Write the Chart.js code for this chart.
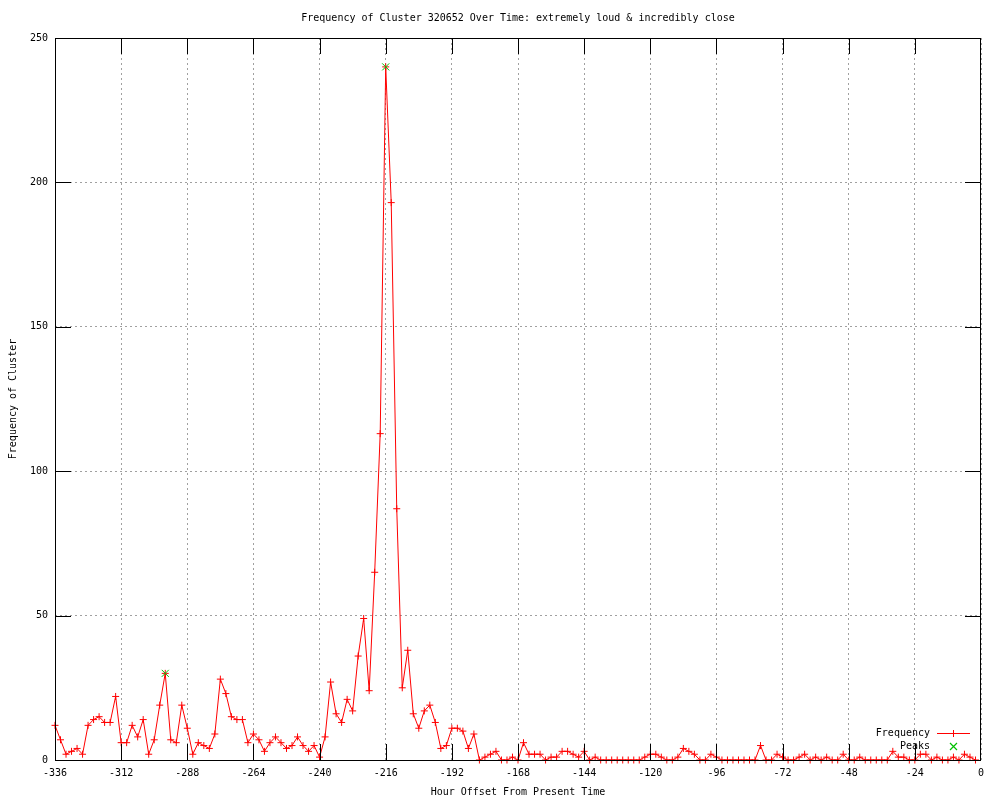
<!DOCTYPE html>
<html>
<head>
<meta charset="utf-8">
<script src="https://cdn.jsdelivr.net/npm/chart.js"></script>
<style>
  body { margin:0; background:#fff; }
  canvas { display:block; }
</style>
</head>
<body>
<canvas id="freqChart" width="1000" height="800"></canvas>
<script>
// hour offsets (every 2h) and cluster frequency
const hours = [
  -336,-334,-332,-330,-328,-326,-324,-322,-320,-318,-316,-314,-312,-310,-308,-306,-304,-302,-300,-298,
  -296,-294,-292,-290,-288,-286,-284,-282,-280,-278,-276,-274,-272,-270,-268,-266,-264,-262,-260,-258,
  -256,-254,-252,-250,-248,-246,-244,-242,-240,-238,-236,-234,-232,-230,-228,-226,-224,-222,-220,-218,
  -216,-214,-212,-210,-208,-206,-204,-202,-200,-198,-196,-194,-192,-190,-188,-186,-184,-182,-180,-178,
  -176,-174,-172,-170,-168,-166,-164,-162,-160,-158,-156,-154,-152,-150,-148,-146,-144,-142,-140,-138,
  -136,-134,-132,-130,-128,-126,-124,-122,-120,-118,-116,-114,-112,-110,-108,-106,-104,-102,-100,-98,
  -96,-94,-92,-90,-88,-86,-84,-82,-80,-78,-76,-74,-72,-70,-68,-66,-64,-62,-60,-58,
  -56,-54,-52,-50,-48,-46,-44,-42,-40,-38,-36,-34,-32,-30,-28,-26,-24,-22,-20,-18,
  -16,-14,-12,-10,-8,-6,-4,-2
];
const frequency = [
  12,7,2,3,4,2,12,14,15,13,13,22,6,6,12,8,14,2,7,19,
  30,7,6,19,11,2,6,5,4,9,28,23,15,14,14,6,9,7,3,6,
  8,6,4,5,8,5,3,5,1,8,27,16,13,21,17,36,49,24,65,113,
  240,193,87,25,38,16,11,17,19,13,4,5,11,11,10,4,9,0,1,2,
  3,0,0,1,0,6,2,2,2,0,1,1,3,3,2,1,3,0,1,0,
  0,0,0,0,0,0,0,1,2,2,1,0,0,1,4,3,2,0,0,2,
  1,0,0,0,0,0,0,0,5,0,0,2,1,0,0,1,2,0,1,0,
  1,0,0,2,0,0,1,0,0,0,0,0,3,1,1,0,0,2,2,0,
  1,0,0,1,0,2,1,0
];
const peakHours = [-296, -216];
const peakValues = [30, 240];

const xTicks = [-336,-312,-288,-264,-240,-216,-192,-168,-144,-120,-96,-72,-48,-24,0];
const yTicks = [0,50,100,150,200,250];

const FONT = "'DejaVu Sans Mono', 'Liberation Mono', monospace";
const TICK_LEN = 16;

// gnuplot-like frame: border, inward ticks on all sides, titles and key
const framePlugin = {
  id:'frame',
  afterDatasetsDraw(chart){
    const {ctx, chartArea:a, scales} = chart;
    const L = Math.round(a.left), R = Math.round(a.right) - 1;
    const T = Math.round(a.top), B = Math.round(a.bottom);
    ctx.save();
    ctx.setLineDash([]);
    ctx.globalAlpha = 1;
    ctx.fillStyle = '#000';
    // border
    ctx.fillRect(L, T, R - L + 1, 1);
    ctx.fillRect(L, B, R - L + 1, 1);
    ctx.fillRect(L, T, 1, B - T + 1);
    ctx.fillRect(R, T, 1, B - T + 1);
    // ticks
    xTicks.forEach(v=>{
      const x = Math.min(R, Math.round(scales.x.getPixelForValue(v)));
      ctx.fillRect(x, B - TICK_LEN, 1, TICK_LEN);
      ctx.fillRect(x, T, 1, TICK_LEN);
    });
    yTicks.forEach(v=>{
      const y = Math.round(scales.y.getPixelForValue(v));
      ctx.fillRect(L, y, TICK_LEN, 1);
      ctx.fillRect(R - TICK_LEN + 1, y, TICK_LEN, 1);
    });

    const cx = (a.left + a.right) / 2;
    ctx.font = '10px ' + FONT;
    ctx.textAlign = 'center';
    ctx.textBaseline = 'middle';
    ctx.fillText('Frequency of Cluster 320652 Over Time: extremely loud & incredibly close', cx, 18);
    ctx.fillText('Hour Offset From Present Time', cx, 792);
    ctx.save();
    ctx.translate(13, (a.top + a.bottom) / 2);
    ctx.rotate(-Math.PI/2);
    ctx.fillText('Frequency of Cluster', 0, 0);
    ctx.restore();

    // key
    ctx.textAlign = 'right';
    ctx.fillText('Frequency', 930, 733);
    ctx.fillText('Peaks', 930, 746);
    ctx.fillStyle = '#ff0000';
    ctx.fillRect(937, 733, 33, 1);
    ctx.fillRect(953, 730, 1, 7);
    ctx.strokeStyle = '#00c000';
    ctx.lineWidth = 1.2;
    ctx.beginPath();
    ctx.moveTo(950, 743); ctx.lineTo(957, 750);
    ctx.moveTo(957, 743); ctx.lineTo(950, 750);
    ctx.stroke();
    ctx.restore();
  }
};

const ctx = document.getElementById('freqChart').getContext('2d');
const freqChart = new Chart(ctx, {
  type:'line',
  data:{datasets:[
    {label:'Frequency', data:hours.map((h,i)=>({x:h, y:frequency[i]})),
     borderColor:'#ff0000', borderWidth:1, tension:0, clip:false,
     pointStyle:'cross', pointRadius:3.5, pointBorderWidth:1,
     pointBorderColor:'#ff0000', pointBackgroundColor:'#ff0000', order:2},
    {label:'Peaks', data:peakHours.map((h,i)=>({x:h, y:peakValues[i]})),
     showLine:false, clip:false,
     pointStyle:'crossRot', pointRadius:5, pointBorderWidth:1,
     pointBorderColor:'#00c000', pointBackgroundColor:'#00c000', order:1}
  ]},
  options:{
    responsive:false,
    animation:false,
    layout:{padding:{top:38, right:19, left:0, bottom:0}},
    plugins:{legend:{display:false}, tooltip:{enabled:false}},
    scales:{
      x:{
        type:'linear', min:-336, max:0,
        afterBuildTicks:s=>{ s.ticks = xTicks.map(v=>({value:v})); },
        afterFit:s=>{ s.height = 40; },
        ticks:{color:'#000', font:{family:FONT, size:10}, padding:7, maxRotation:0, autoSkip:false},
        grid:{color:'#a0a0a0', lineWidth:1, drawTicks:false},
        border:{display:false, dash:[2,3]}
      },
      y:{
        min:0, max:250,
        afterBuildTicks:s=>{ s.ticks = yTicks.map(v=>({value:v})); },
        afterFit:s=>{ s.width = 55; },
        ticks:{color:'#000', font:{family:FONT, size:10}, padding:7},
        grid:{color:'#a0a0a0', lineWidth:1, drawTicks:false},
        border:{display:false, dash:[2,3]}
      }
    }
  },
  plugins:[framePlugin]
});
</script>
</body>
</html>
